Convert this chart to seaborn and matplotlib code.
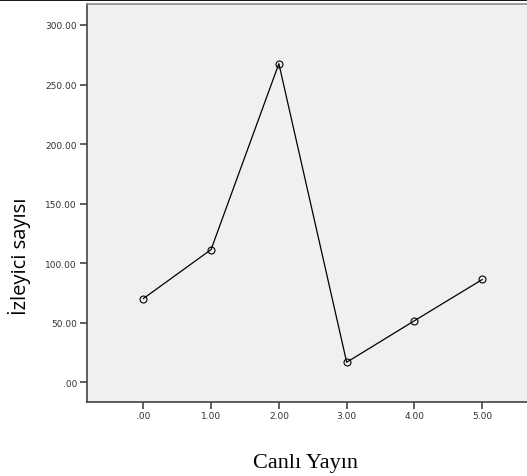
"""
Line chart: izleyici sayisi per canli yayin.
Output: out.png
"""
import matplotlib
matplotlib.use("Agg")
import matplotlib.pyplot as plt
from matplotlib.lines import Line2D
import pandas as pd
import seaborn as sns

canli_yayin = [0.0, 1.0, 2.0, 3.0, 4.0, 5.0]
izleyici = [70.2, 111.4, 267.5, 16.8, 51.7, 86.3]
y_ticks = [0, 50, 100, 150, 200, 250, 300]
x_ticks = [0, 1, 2, 3, 4, 5]

sns.set_style("white")
plt.rcParams["font.family"] = ["DejaVu Sans"]

df = pd.DataFrame({"Canlı Yayın": canli_yayin, "İzleyici sayısı": izleyici})

fig = plt.figure(figsize=(5.27, 4.77), dpi=100)
ax = fig.add_axes([0.1645, 0.1558, 0.858, 0.8327])
ax.set_facecolor("#f0f0f0")

sns.lineplot(data=df, x="Canlı Yayın", y="İzleyici sayısı", ax=ax,
             color="black", linewidth=0.9, marker="o", markersize=5,
             markerfacecolor="none", markeredgecolor="black",
             markeredgewidth=0.8)

ax.set_xlim(-0.834, 5.834)
ax.set_ylim(-16.3, 317.2)

ax.set_xticks(x_ticks)
ax.set_xticklabels([".00" if v == 0 else f"{v:.2f}" for v in x_ticks])
ax.set_yticks(y_ticks)
ax.set_yticklabels([".00" if v == 0 else f"{v:.2f}" for v in y_ticks])

ax.tick_params(axis="both", direction="out", length=5, width=1.2,
               color="#444444", labelsize=6.5, labelcolor="#333333", pad=2)
ax.tick_params(axis="x", bottom=True)
ax.tick_params(axis="y", left=True)

for side in ["left", "bottom"]:
    ax.spines[side].set_color("#444444")
    ax.spines[side].set_linewidth(1.2)
ax.spines["top"].set_color("#8c8c8c")
ax.spines["top"].set_linewidth(1.2)
ax.spines["right"].set_visible(False)

ax.set_ylabel("İzleyici sayısı", fontsize=14.5, family="Open Sans", color="black")
ax.yaxis.set_label_coords(-0.123, 0.369)
ax.set_xlabel("Canlı Yayın", fontsize=16, family="Liberation Serif", color="black")
ax.xaxis.set_label_coords(0.483, -0.128)

fig.add_artist(Line2D([0, 1], [1.0, 1.0], transform=fig.transFigure,
                      color="black", linewidth=2))

fig.savefig("out.png", dpi=100)
